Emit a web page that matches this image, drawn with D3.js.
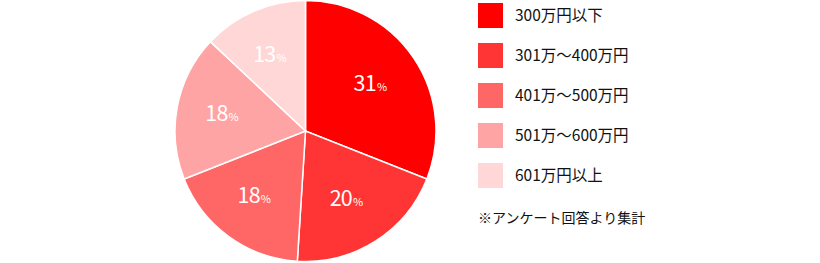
<!DOCTYPE html>
<html>
<head>
<meta charset="utf-8">
<script src="https://cdn.jsdelivr.net/npm/d3@7"></script>
<style>
  body { margin: 0; background: #fff; }
  svg { display: block; font-family: "Noto Sans CJK JP", "Noto Sans", sans-serif; }
</style>
</head>
<body>
<div id="chart"></div>
<script>
// 年収分布
const categories = ['300万円以下', '301万～400万円', '401万～500万円', '501万～600万円', '601万円以上'];
const values = [31, 20, 18, 18, 13];
const colors = ['#ff0000', '#ff3535', '#ff6666', '#ffa4a4', '#ffd7d7'];
const note = '※アンケート回答より集計';

const width = 820;
const height = 263;
const cx = 305.5, cy = 131, radius = 130.5;

const svg = d3.select('#chart')
  .append('svg')
  .attr('width', width)
  .attr('height', height);

const pie = d3.pie().sort(null).value(d => d);
const arcs = pie(values);

const arc = d3.arc().innerRadius(0).outerRadius(radius);
const labelArc = d3.arc().innerRadius(82).outerRadius(82);

const g = svg.append('g')
  .attr('transform', 'translate(' + cx + ',' + cy + ')');

g.selectAll('path')
  .data(arcs)
  .enter()
  .append('path')
  .attr('d', arc)
  .attr('fill', (d, i) => colors[i])
  .attr('stroke', '#fff')
  .attr('stroke-width', 1.5);

// labels sit a bit left of the centroid
const labels = g.selectAll('text')
  .data(arcs)
  .enter()
  .append('text')
  .attr('transform', d => {
    const c = labelArc.centroid(d);
    return 'translate(' + (c[0] - 3) + ',' + c[1] + ')';
  })
  .attr('text-anchor', 'middle')
  .attr('dy', '0.36em')
  .attr('fill', '#fff');

labels.append('tspan')
  .style('font-size', '21.5px')
  .style('letter-spacing', '-0.8px')
  .text(d => d.data);
labels.append('tspan')
  .style('font-size', '11px')
  .attr('dx', 1)
  .text('%');

// legend
const legend = svg.append('g');
const rows = legend.selectAll('g')
  .data(categories)
  .enter()
  .append('g')
  .attr('transform', (d, i) => 'translate(478,' + (3 + i * 40) + ')');

rows.append('rect')
  .attr('width', 25)
  .attr('height', 25)
  .attr('fill', (d, i) => colors[i]);

rows.append('text')
  .attr('x', 37)
  .attr('y', 12.5)
  .attr('dy', '0.36em')
  .style('font-size', '15.5px')
  .attr('fill', '#111')
  .text(d => d);

legend.append('text')
  .attr('x', 478)
  .attr('y', 218)
  .attr('dy', '0.36em')
  .style('font-size', '14px')
  .attr('fill', '#111')
  .text(note);
</script>
</body>
</html>
